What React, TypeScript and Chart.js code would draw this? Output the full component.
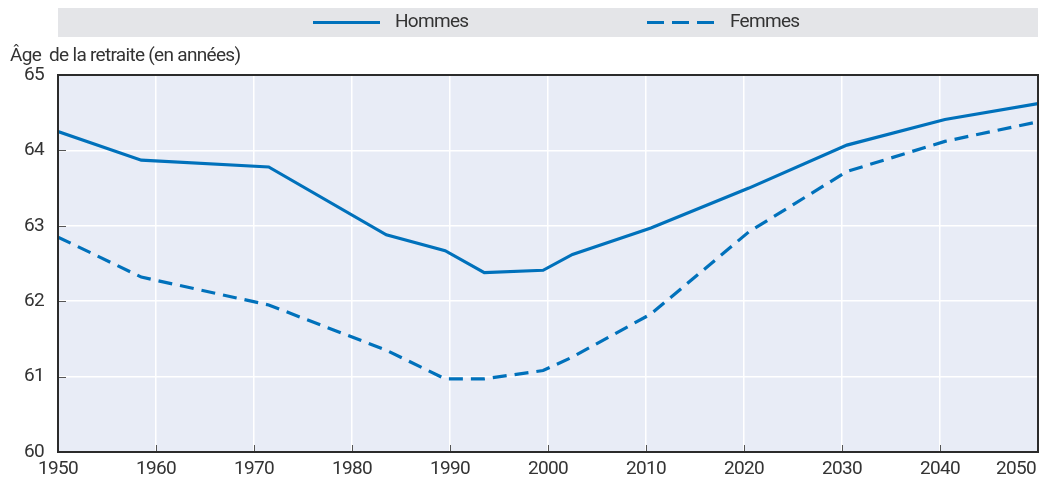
import React, { useEffect, useRef } from "react";
import { Chart, registerables } from "chart.js";

Chart.register(...registerables);

// Data
const years = [1950, 1958.5, 1971.5, 1983.5, 1989.5, 1993.5, 1999.5, 2002.5, 2010.5, 2020.5, 2030.5, 2040.5, 2050];
const hommes = [64.25, 63.87, 63.78, 62.88, 62.67, 62.38, 62.41, 62.62, 62.97, 63.5, 64.07, 64.41, 64.62];
const femmes = [62.85, 62.32, 61.95, 61.35, 60.97, 60.97, 61.08, 61.26, 61.83, 62.92, 63.72, 64.12, 64.38];
const xTicks = [1950, 1960, 1970, 1980, 1990, 2000, 2010, 2020, 2030, 2040, 2050];
const yTicks = [60, 61, 62, 63, 64, 65];
const seriesNames = ["Hommes", "Femmes"];
const axisTitle = "Âge  de la retraite (en années)";

const FONT = "Roboto, 'Liberation Sans', sans-serif";
const FS = 19;
const SPACING = "-0.7px";
const LINE = "#0071bb";
const TEXT = "#333333";

const decorPlugin = {
  id: "decor",
  beforeDraw(chart: any) {
    const { ctx, chartArea } = chart;
    ctx.letterSpacing = SPACING;
    ctx.save();
    ctx.fillStyle = "#e8ecf6";
    ctx.fillRect(chartArea.left, chartArea.top, chartArea.right - chartArea.left, chartArea.bottom - chartArea.top);
    // legend box
    ctx.fillStyle = "#e4e5e8";
    ctx.fillRect(chartArea.left, 8, chartArea.right - chartArea.left, 29);
    const cy = 22.5;
    ctx.strokeStyle = LINE;
    ctx.lineWidth = 3;
    ctx.beginPath();
    ctx.moveTo(313, cy);
    ctx.lineTo(380, cy);
    ctx.stroke();
    ctx.setLineDash([17, 8]);
    ctx.beginPath();
    ctx.moveTo(647, cy);
    ctx.lineTo(714, cy);
    ctx.stroke();
    ctx.setLineDash([]);
    ctx.fillStyle = TEXT;
    ctx.font = `${FS}px ${FONT}`;
    ctx.textBaseline = "middle";
    ctx.textAlign = "left";
    ctx.fillText(seriesNames[0], 395, cy);
    ctx.fillText(seriesNames[1], 730, cy);
    // axis title
    ctx.fillText(axisTitle, 10, 56);
    ctx.restore();
  },
  afterDraw(chart: any) {
    const { ctx, chartArea, scales } = chart;
    const xs = scales.x;
    const ys = scales.y;
    ctx.save();
    // inner tick marks
    ctx.strokeStyle = "#555";
    ctx.lineWidth = 1;
    ctx.beginPath();
    ys.ticks.forEach((t: any) => {
      const y = Math.round(ys.getPixelForValue(t.value)) + 0.5;
      ctx.moveTo(chartArea.left, y);
      ctx.lineTo(chartArea.left + 8, y);
    });
    xs.ticks.forEach((t: any) => {
      const x = Math.round(xs.getPixelForValue(t.value)) + 0.5;
      ctx.moveTo(x, chartArea.bottom);
      ctx.lineTo(x, chartArea.bottom - 7);
    });
    ctx.stroke();
    // frame
    ctx.strokeStyle = "#2b2b2b";
    ctx.lineWidth = 2;
    ctx.strokeRect(chartArea.left, chartArea.top, chartArea.right - chartArea.left, chartArea.bottom - chartArea.top);
    // last x label, right aligned at the edge
    const items = xs.getLabelItems();
    const last = items[items.length - 1];
    if (last) {
      ctx.fillStyle = TEXT;
      ctx.font = `${FS}px ${FONT}`;
      ctx.textAlign = "right";
      ctx.textBaseline = last.options.textBaseline;
      ctx.fillText(String(xTicks[xTicks.length - 1]), chartArea.right - 2, last.options.translation[1] + (last.textOffset || 0));
    }
    ctx.restore();
  },
};

export default function App() {
  const ref = useRef<HTMLCanvasElement | null>(null);
  useEffect(() => {
    if (!ref.current) return;
    const chart = new Chart(ref.current, {
      type: "line",
      data: {
        datasets: [
          {
            label: seriesNames[0],
            data: years.map((x, i) => ({ x, y: hommes[i] })),
            borderColor: LINE,
            borderWidth: 3.2,
            pointRadius: 0,
            fill: false,
            tension: 0,
          },
          {
            label: seriesNames[1],
            data: years.map((x, i) => ({ x, y: femmes[i] })),
            borderColor: LINE,
            borderWidth: 3.2,
            borderDash: [14, 8],
            pointRadius: 0,
            fill: false,
            tension: 0,
          },
        ],
      },
      options: {
        animation: false,
        responsive: false,
        maintainAspectRatio: false,
        layout: { padding: { top: 75, right: 3, left: 0, bottom: 0 } },
        plugins: { legend: { display: false }, title: { display: false }, tooltip: { enabled: false } },
        scales: {
          x: {
            type: "linear",
            min: 1950,
            max: 2050,
            afterBuildTicks: (s: any) => {
              s.ticks = xTicks.map((v) => ({ value: v }));
            },
            afterFit: (s: any) => {
              s.height = 35;
            },
            grid: { color: "#ffffff", lineWidth: 1.5, drawTicks: false },
            border: { display: false },
            ticks: {
              padding: 6,
              color: TEXT,
              font: { family: FONT, size: FS },
              maxRotation: 0,
              autoSkip: false,
              callback: (v: any) => (v === xTicks[xTicks.length - 1] ? "" : String(v)),
            },
          },
          y: {
            min: 60,
            max: 65,
            afterBuildTicks: (s: any) => {
              s.ticks = yTicks.map((v) => ({ value: v }));
            },
            afterFit: (s: any) => {
              s.width = 58;
            },
            grid: { color: "#ffffff", lineWidth: 1.5, drawTicks: false },
            border: { display: false },
            ticks: {
              padding: 14,
              color: TEXT,
              font: { family: FONT, size: FS },
            },
          },
        },
      },
      plugins: [decorPlugin],
    });
    return () => chart.destroy();
  }, []);
  return (
    <div style={{ position: "absolute", left: 0, top: 0, width: 1044, height: 487 }}>
      <canvas ref={ref} width={1044} height={487} style={{ width: 1044, height: 487 }} />
    </div>
  );
}
